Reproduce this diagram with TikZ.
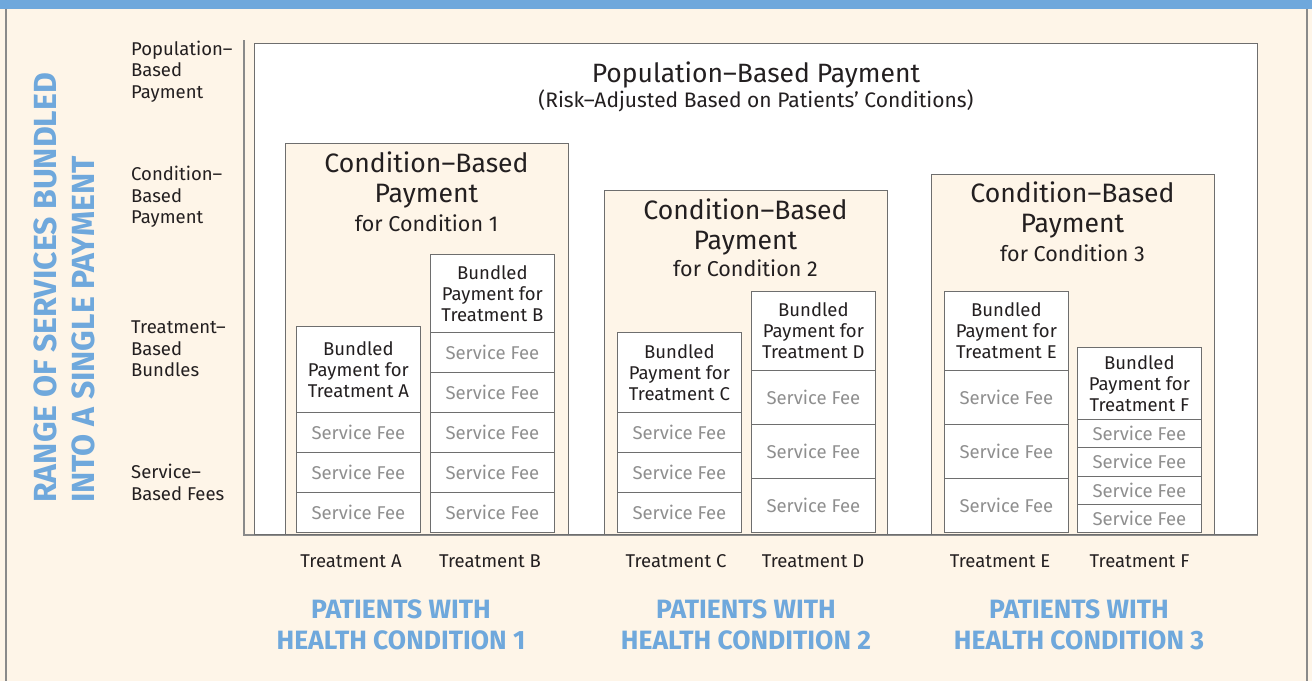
\documentclass[tikz,border=0pt]{standalone}
\usepackage{fontspec}
\setmainfont{Fira Sans}
\usetikzlibrary{positioning}

\definecolor{hblue}{HTML}{6FA8DC}
\definecolor{cream}{HTML}{FEF5E8}
\definecolor{framegrey}{HTML}{8A8A8A}
\definecolor{boxgrey}{HTML}{6E6E6E}
\definecolor{feegrey}{HTML}{8F8F8F}
\definecolor{ink}{HTML}{231F20}

% one treatment: name, x, top, fees, fee height, letter, label x
\newcommand{\treatcol}[7]{%
  \pgfmathsetmacro{\hdrh}{532-#3-#4*#5}
  \node[bundlebox, minimum height=\hdrh pt] (#1) at (#2,#3) {Bundled\\Payment for\\Treatment #6};
  \foreach \k in {1,...,#4}{
    \pgfmathsetmacro{\feey}{#3+\hdrh+(\k-1)*#5}
    \node[feebox, minimum height=#5 pt] (#1fee\k) at (#2,\feey) {Service Fee};
  }
  \node[treatlabel] (#1lab) at (#7,561) {Treatment #6};
}

\begin{document}
\begin{tikzpicture}[x=1pt,y=-1pt,
  every node/.style={inner sep=0pt, text=ink},
  popbox/.style={draw=boxgrey, fill=white, line width=0.8pt, anchor=north west},
  condbox/.style={draw=boxgrey, fill=cream, line width=0.8pt, anchor=north west, minimum width=283pt},
  bundlebox/.style={draw=boxgrey, fill=white, line width=0.8pt, anchor=north west, minimum width=124pt, align=center, font=\fontsize{18.5}{21}\selectfont},
  feebox/.style={bundlebox, text=feegrey},
  treatlabel/.style={font=\fontsize{18.5}{21}\selectfont},
  levellabel/.style={anchor=west, align=left, font=\fontsize{18.5}{21.5}\selectfont},
  poptitle/.style={font=\fontsize{26.5}{30}\selectfont},
  popsub/.style={font=\fontsize{21}{24}\selectfont},
  condtitle/.style={align=center, font=\fontsize{26.6}{30}\selectfont},
  condsub/.style={font=\fontsize{21.5}{24}\selectfont},
  patlabel/.style={align=center, text=hblue, font=\bfseries\fontsize{26.5}{30.5}\selectfont},
]
\fill[cream] (0,0) rectangle (1312,681);
\useasboundingbox (0,0) rectangle (1312,681);
\fill[hblue] (0,0) rectangle (1312,9);
\draw[framegrey, line width=1.2pt] (6,9) -- (6,681);
\draw[framegrey, line width=1.2pt] (1307,9) -- (1307,681);

% axis
\coordinate (axtop) at (244,40);
\coordinate (axcorner) at (244,535);
\coordinate (axright) at (1258,535);
\draw[framegrey, line width=2pt] (axtop) -- (axcorner) -- (axright);

\node[popbox, minimum width=1003pt, minimum height=491pt] (pop) at (254,43) {};
\node[poptitle] (poptitle) at (756,75) {Population–Based Payment};
\node[popsub] (popsub) at (756,101) {(Risk–Adjusted Based on Patients’ Conditions)};

\node[condbox, minimum height=391pt] (cond1) at (285,143) {};
\node[condbox, minimum height=344pt] (cond2) at (604,190) {};
\node[condbox, minimum height=360pt] (cond3) at (931,174) {};

\node[condtitle] (cond1title) at (426.5,180) {Condition–Based\\Payment};
\node[condsub] (cond1sub) at (426.5,223) {for Condition 1};
\node[condtitle] (cond2title) at (745.5,226.5) {Condition–Based\\Payment};
\node[condsub] (cond2sub) at (745.5,268) {for Condition 2};
\node[condtitle] (cond3title) at (1072.5,210) {Condition–Based\\Payment};
\node[condsub] (cond3sub) at (1072.5,253) {for Condition 3};

\treatcol{tA}{296}{326}{3}{40}{A}{351}
\treatcol{tB}{430}{254}{5}{40}{B}{490}
\treatcol{tC}{617}{332}{3}{40}{C}{676}
\treatcol{tD}{751}{291}{3}{54}{D}{813}
\treatcol{tE}{944}{291}{3}{54}{E}{1000}
\treatcol{tF}{1077}{347}{4}{28.25}{F}{1139.5}

\node[levellabel] (lvpop) at (131,71.7) {Population–\\Based\\Payment};
\node[levellabel] (lvcond) at (131,197) {Condition–\\Based\\Payment};
\node[levellabel] (lvtreat) at (131,349) {Treatment–\\Based\\Bundles};
\node[levellabel] (lvserv) at (131,482.5) {Service–\\Based Fees};

\node[rotate=90, anchor=west, align=left, text=hblue, font=\bfseries\fontsize{32}{38}\selectfont] (yaxis) at (64,503) {RANGE OF SERVICES BUNDLED\\INTO A SINGLE PAYMENT};

\node[patlabel] (pat1) at (401,625) {PATIENTS WITH\\HEALTH CONDITION 1};
\node[patlabel] (pat2) at (746,625) {PATIENTS WITH\\HEALTH CONDITION 2};
\node[patlabel] (pat3) at (1079,625) {PATIENTS WITH\\HEALTH CONDITION 3};
\end{tikzpicture}
\end{document}
